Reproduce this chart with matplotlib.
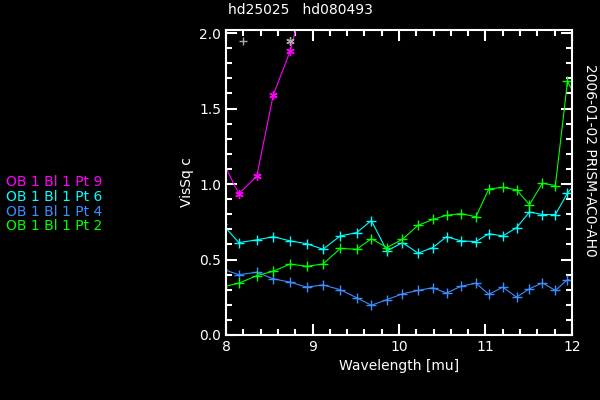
import matplotlib
matplotlib.use('Agg')
import matplotlib.pyplot as plt
from matplotlib.ticker import MultipleLocator

# wavelength grid (mu)
wave = [7.95, 8.146, 8.353, 8.545, 8.74, 8.93, 9.12, 9.32, 9.51, 9.68, 9.86, 10.04,
        10.22, 10.39, 10.55, 10.72, 10.89, 11.04, 11.20, 11.36, 11.51, 11.66,
        11.81, 11.95, 12.1]

pt9 = [1.158, 0.936, 1.05, 1.59, 1.88, 2.3]
pt6 = [0.737, 0.612, 0.63, 0.651, 0.623, 0.605, 0.568, 0.656, 0.678, 0.758, 0.557,
       0.612, 0.542, 0.579, 0.651, 0.623, 0.619, 0.671, 0.656, 0.71, 0.815, 0.798,
       0.798, 0.94, 1.04]
pt4 = [0.437, 0.4, 0.415, 0.372, 0.35, 0.317, 0.332, 0.3, 0.247, 0.197, 0.234, 0.273,
       0.295, 0.313, 0.278, 0.323, 0.343, 0.269, 0.317, 0.251, 0.306, 0.345, 0.295,
       0.367, 0.339]
pt2 = [0.317, 0.343, 0.393, 0.422, 0.47, 0.455, 0.47, 0.573, 0.568, 0.638, 0.579,
       0.634, 0.726, 0.765, 0.793, 0.804, 0.783, 0.968, 0.977, 0.962, 0.863, 1.005,
       0.99, 1.68, 1.52]

# grey markers near the top
grey_plus = (8.19, 1.945)
grey_star = (8.74, 1.945)

labels = ['OB 1 Bl 1 Pt 9', 'OB 1 Bl 1 Pt 6', 'OB 1 Bl 1 Pt 4', 'OB 1 Bl 1 Pt 2']
colors = ['#ff00ff', '#00ffff', '#3c8cff', '#00ff00']

fig = plt.figure(figsize=(6, 4), dpi=100, facecolor='black')
ax = fig.add_axes([0.377, 0.1625, 0.576, 0.7625], facecolor='black')

ax.plot(wave[:len(pt9)], pt9, color=colors[0], lw=0.8, marker=(6, 2, 0), ms=6, mew=1)
ax.plot(wave, pt6, color=colors[1], lw=0.8, marker='+', ms=6.5, mew=1)
ax.plot(wave, pt4, color=colors[2], lw=0.8, marker='+', ms=6.5, mew=1)
ax.plot(wave, pt2, color=colors[3], lw=0.8, marker='+', ms=6.5, mew=1)
ax.plot(*grey_plus, color='#aaaaaa', marker='+', ms=6, mew=1)
ax.plot(*grey_star, color='#aaaaaa', marker=(6, 2, 0), ms=6, mew=1)

ax.set_xlim(8, 12)
ax.set_ylim(0, 2.02)
ax.xaxis.set_major_locator(MultipleLocator(1))
ax.xaxis.set_minor_locator(MultipleLocator(0.2))
ax.yaxis.set_major_locator(MultipleLocator(0.5))
ax.yaxis.set_minor_locator(MultipleLocator(0.1))
ax.tick_params(which='both', direction='in', top=True, right=True, colors='white',
               labelsize=10)
ax.tick_params(which='major', length=8, width=1.5)
ax.tick_params(which='minor', length=4, width=1.5)
for s in ax.spines.values():
    s.set_color('white')
    s.set_linewidth(1.5)

ax.set_xlabel('Wavelength [mu]', color='white', fontsize=10)
ax.set_ylabel('VisSq c', color='white', fontsize=10)

fig.text(0.5, 0.975, 'hd25025   hd080493', color='white', fontsize=10, ha='center', va='center')
fig.text(0.983, 0.6, '2006-01-02 PRISM-AC0-AH0', color='white', fontsize=10,
         rotation=270, ha='center', va='center')
for i, (lab, c) in enumerate(zip(labels, colors)):
    fig.text(0.01, 0.545 - i * 0.037, lab, color=c, fontsize=10, va='center')

fig.savefig('out.png', dpi=100, facecolor='black')
